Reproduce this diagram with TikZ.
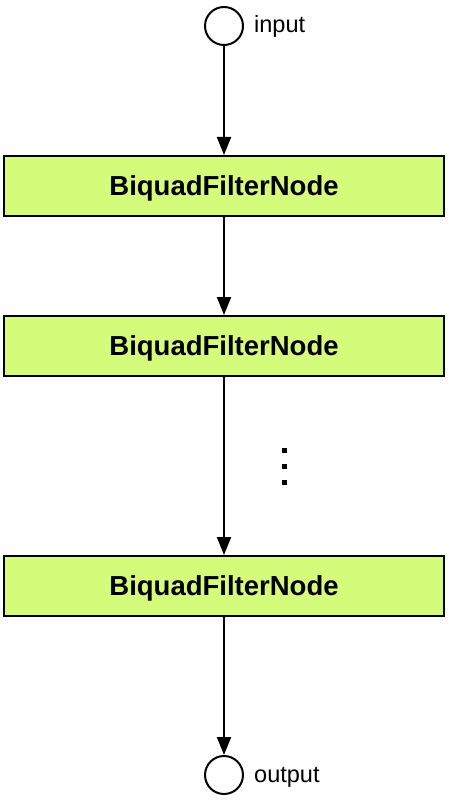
\documentclass[tikz,border=0pt]{standalone}
\usepackage{fontspec}
\setmainfont{Liberation Sans}
\usetikzlibrary{arrows.meta}
\definecolor{boxfill}{HTML}{D5FB7B}
\begin{document}
\begin{tikzpicture}[x=1pt,y=-1pt,
  filterbox/.style={draw=black,line width=2pt,fill=boxfill,minimum width=440pt,minimum height=60pt,inner sep=0pt,text depth=0pt,font=\fontsize{27.5}{30}\selectfont\bfseries},
  port/.style={draw=black,line width=2pt,circle,minimum size=38pt,inner sep=0pt},
  portlabel/.style={font=\fontsize{23.5}{26}\selectfont,anchor=base west,inner sep=0pt},
  flow/.style={line width=2pt,-{Triangle[length=18pt,width=14pt]}}]
\useasboundingbox (0,0) rectangle (448,802);
\node[port] (in) at (224,26) {};
\node[portlabel] (inl) at (254,33) {input};
\node[filterbox] (b1) at (224,186) {BiquadFilterNode};
\node[filterbox] (b2) at (224,346) {BiquadFilterNode};
\node[filterbox] (b3) at (224,586) {BiquadFilterNode};
\node[port] (out) at (224,775) {};
\node[portlabel] (outl) at (254,782) {output};
\draw[flow] (in) -- (b1);
\draw[flow] (b1) -- (b2);
\draw[flow] (b2) -- (b3);
\draw[flow] (b3) -- (out);
\foreach \yy in {450,466,482} \fill (281.5,\yy-2.5) rectangle (286.5,\yy+2.5);
\end{tikzpicture}
\end{document}
